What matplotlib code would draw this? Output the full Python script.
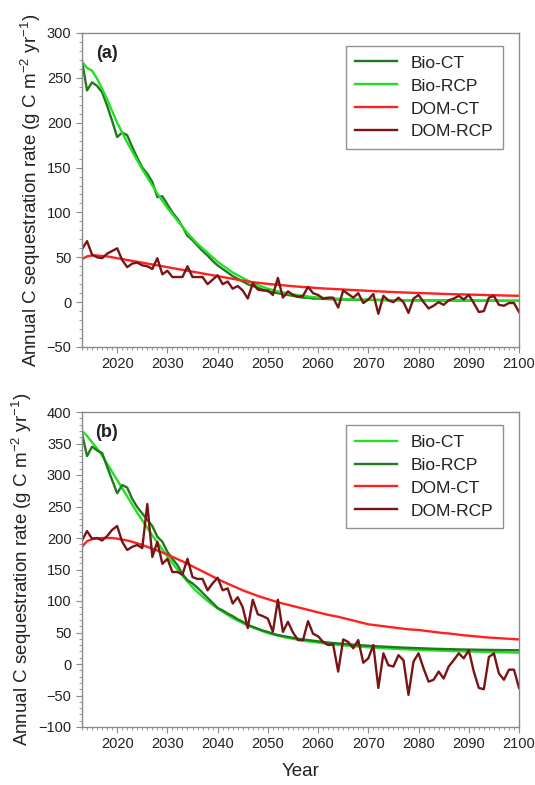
import numpy as np
import matplotlib
matplotlib.use("Agg")
import matplotlib.pyplot as plt
from matplotlib.ticker import MultipleLocator

plt.rcParams["font.family"] = ["Liberation Sans", "DejaVu Sans"]
plt.rcParams["mathtext.default"] = "regular"

years = list(range(2013, 2101))

# ---- panel (a) ----
a_bio_ct = [269, 236, 245, 241, 234, 219, 202, 184, 189, 186,
            173, 161, 150, 143, 134, 117, 118, 109, 100, 93,
            84, 74, 69, 63, 57, 52, 46, 41, 37, 33,
            29, 26, 23, 20, 18, 16, 14, 12, 11, 10,
            9, 8, 7, 6, 5, 5, 4, 4, 3.6, 3.4,
            3.2, 3.0, 2.9, 2.8, 2.7, 2.6, 2.5, 2.5, 2.4, 2.4,
            2.3, 2.2, 2.2, 2.1, 2.1, 2.0, 2.0, 2.0, 1.9, 1.9,
            1.9, 1.8, 1.8, 1.8, 1.8, 1.7, 1.7, 1.7, 1.7, 1.7,
            1.6, 1.6, 1.6, 1.6, 1.6, 1.5, 1.5, 1.5]
a_bio_rcp = [268, 261, 258, 249, 238, 226, 213, 200, 189, 178,
             168, 158, 148, 139, 130, 121, 113, 105, 98, 91,
             84, 77, 71, 65, 60, 55, 50, 45, 41, 37,
             33, 30, 27, 24, 21, 19, 17, 15, 13.5, 12,
             10.8, 9.7, 8.7, 7.8, 7.0, 6.3, 5.7, 5.2, 4.8, 4.4,
             4.1, 3.8, 3.5, 3.3, 3.1, 2.9, 2.8, 2.7, 2.6, 2.5,
             2.4, 2.3, 2.2, 2.1, 2.1, 2.0, 2.0, 1.9, 1.9, 1.9,
             1.8, 1.8, 1.8, 1.8, 1.7, 1.7, 1.7, 1.7, 1.7, 1.6,
             1.6, 1.6, 1.6, 1.6, 1.5, 1.5, 1.5, 1.5]
a_dom_ct = [48, 51, 52, 52, 51.5, 51, 50, 49, 48, 47,
            46, 45, 44, 43, 42, 41, 40, 39, 38, 37,
            36, 35, 34, 33, 32, 31, 30, 29, 28, 27,
            26, 25, 24, 23, 22.3, 21.6, 21, 20.4, 19.8, 19.3,
            18.8, 18.3, 17.8, 17.3, 16.9, 16.5, 16.1, 15.7, 15.3, 15.0,
            14.7, 14.4, 14.1, 13.8, 13.5, 13.2, 12.9, 12.6, 12.3, 12.0,
            11.8, 11.5, 11.3, 11.0, 10.8, 10.6, 10.4, 10.2, 10.0, 9.8,
            9.6, 9.4, 9.2, 9.0, 8.9, 8.7, 8.6, 8.4, 8.3, 8.1,
            8.0, 7.8, 7.7, 7.6, 7.4, 7.3, 7.2, 7.1]
a_dom_rcp = [59, 68, 53, 50, 49, 54, 57, 60, 47, 39,
             43, 44, 41, 40, 37, 49, 31, 35, 28, 28,
             28, 40, 28, 28, 28, 20, 25, 30, 20, 23,
             15, 18, 13, 4, 21, 14, 13, 13, 8, 27,
             5, 12, 8, 6, 7, 17, 10, 8, 4, 5,
             5, -6, 13, 9, 5, 10, -1, 3, 9, -13,
             7, 2, 0, 5, 0, -12, 4, 8, 0, -7,
             -4, 0, -3, 2, 4, 7, 3, 8, -1, -11,
             -10, 5, 7, -3, -4, -1, -1, -11]

# ---- panel (b) ----
b_bio_ct = [370, 362, 352, 342, 331, 318, 305, 292, 279, 266,
            253, 240, 228, 216, 204, 193, 182, 171, 160, 150,
            140, 131, 122, 114, 107, 100, 94, 88, 83, 78,
            73, 69, 65, 61, 58, 55, 52, 49, 47, 45,
            43, 41.5, 40, 38.5, 37, 36, 35, 34, 33, 32,
            31, 30.3, 29.6, 28.9, 28.2, 27.6, 27, 26.5, 26, 25.5,
            25, 24.6, 24.2, 23.8, 23.4, 23, 22.7, 22.4, 22.1, 21.8,
            21.5, 21.2, 21, 20.7, 20.5, 20.3, 20.1, 19.9, 19.7, 19.5,
            19.3, 19.1, 18.9, 18.7, 18.5, 18.3, 18.1, 18]
b_bio_rcp = [366, 330, 345, 339, 335, 313, 292, 271, 284, 280,
             262, 249, 239, 229, 219, 202, 194, 178, 167, 157,
             143, 133, 128, 121, 113, 105, 97, 89, 85, 80,
             76, 71, 67, 62, 59, 56, 53, 51, 48, 46,
             44.5, 43, 41.5, 40, 39, 38, 37, 36, 35, 34,
             33.3, 32.6, 32, 31.3, 30.7, 30.1, 29.5, 29, 28.5, 28,
             27.6, 27.2, 26.8, 26.4, 26, 25.7, 25.4, 25.1, 24.8, 24.5,
             24.2, 24, 23.8, 23.6, 23.4, 23.2, 23, 22.9, 22.8, 22.6,
             22.5, 22.4, 22.3, 22.2, 22.1, 22, 21.9, 21.8]
b_dom_ct = [186, 195, 198, 199.5, 200, 200, 200, 199, 197.5, 196,
            194, 191.5, 189, 186, 183, 180, 177, 173.5, 170, 166.5,
            163, 159, 155, 151, 147, 143, 139, 135, 131, 127.5,
            124, 120.5, 117, 114, 111, 108, 105.5, 103, 100.5, 98,
            96, 94, 92, 90, 88, 86, 84, 82, 80, 78,
            76.5, 75, 73, 71, 69, 67, 65, 63, 62, 61,
            60, 59, 58, 57, 56, 55, 54.5, 54, 53, 52,
            51, 50, 49, 48.5, 47.5, 46.5, 45.5, 45, 44, 43.5,
            42.5, 42, 41.5, 41, 40.5, 40, 39.5, 39]
b_dom_rcp = [196, 211, 199, 200, 196, 203, 213, 219, 194, 181,
             186, 189, 184, 254, 170, 194, 159, 167, 146, 146,
             142, 167, 138, 135, 135, 117, 128, 137, 117, 120,
             96, 106, 90, 57, 102, 79, 76, 72, 51, 102,
             51, 67, 50, 38, 38, 68, 48, 44, 35, 30,
             31, -12, 39, 35, 25, 38, 2, 9, 30, -38,
             17, -2, -4, 14, 6, -49, 4, 17, -7, -28,
             -25, -12, -23, -4, 6, 17, 9, 22, -12, -38,
             -40, 11, 17, -15, -25, -9, -9, -38]

DARK_GREEN = "#1f7a1f"
LIGHT_GREEN = "#22e022"
RED = "#ff2020"
DARK_RED = "#7a1414"

ylabel = "Annual C sequestration rate (g C m$^{-2}$ yr$^{-1}$)"

fig = plt.figure(figsize=(5.35, 7.85), dpi=100)
ax_a = fig.add_axes([82 / 535, 1 - 347 / 785, 437 / 535, 314 / 785])
ax_b = fig.add_axes([82 / 535, 1 - 727 / 785, 437 / 535, 315 / 785])

# panel (a): legend order Bio-CT, Bio-RCP, DOM-CT, DOM-RCP
ax_a.plot(years, a_bio_ct, color=DARK_GREEN, lw=1.7, label="Bio-CT")
ax_a.plot(years, a_bio_rcp, color=LIGHT_GREEN, lw=1.7, label="Bio-RCP")
ax_a.plot(years, a_dom_ct, color=RED, lw=1.7, label="DOM-CT")
ax_a.plot(years, a_dom_rcp, color=DARK_RED, lw=1.7, label="DOM-RCP")

ax_b.plot(years, b_bio_ct, color=LIGHT_GREEN, lw=1.7, label="Bio-CT")
ax_b.plot(years, b_bio_rcp, color=DARK_GREEN, lw=1.7, label="Bio-RCP")
ax_b.plot(years, b_dom_ct, color=RED, lw=1.7, label="DOM-CT")
ax_b.plot(years, b_dom_rcp, color=DARK_RED, lw=1.7, label="DOM-RCP")

for ax, ylim, tag in [(ax_a, (-50, 300), "(a)"), (ax_b, (-100, 400), "(b)")]:
    ax.set_xlim(2013, 2100)
    ax.set_ylim(*ylim)
    ax.set_xticks(range(2020, 2101, 10))
    ax.xaxis.set_minor_locator(MultipleLocator(1))
    ax.yaxis.set_major_locator(MultipleLocator(50))
    ax.yaxis.set_minor_locator(MultipleLocator(10))
    for s in ax.spines.values():
        s.set_color("#8a8a8a")
        s.set_linewidth(1.0)
    ax.tick_params(which="both", direction="out", color="#8a8a8a",
                   labelsize=10.5, labelcolor="#222222", top=False, right=False)
    ax.tick_params(which="major", length=4)
    ax.tick_params(which="minor", length=2.5)
    ax.set_ylabel(ylabel, fontsize=13.5, color="#222222", labelpad=3)
    ax.text(0.057, 0.935, tag, transform=ax.transAxes, fontsize=13,
            fontweight="bold", ha="center", va="center", color="#222222")
    leg = ax.legend(loc="upper right", bbox_to_anchor=(0.963, 0.959),
                    borderaxespad=0, fontsize=12.5, frameon=True,
                    fancybox=False, handlelength=2.4, borderpad=0.55,
                    labelspacing=0.45, handletextpad=0.8)
    leg.get_frame().set_edgecolor("#777777")
    leg.get_frame().set_linewidth(1.0)
    for t in leg.get_texts():
        t.set_color("#222222")

ax_b.set_xlabel("Year", fontsize=13.5, color="#222222", labelpad=8)

fig.savefig("out.png", dpi=100)
